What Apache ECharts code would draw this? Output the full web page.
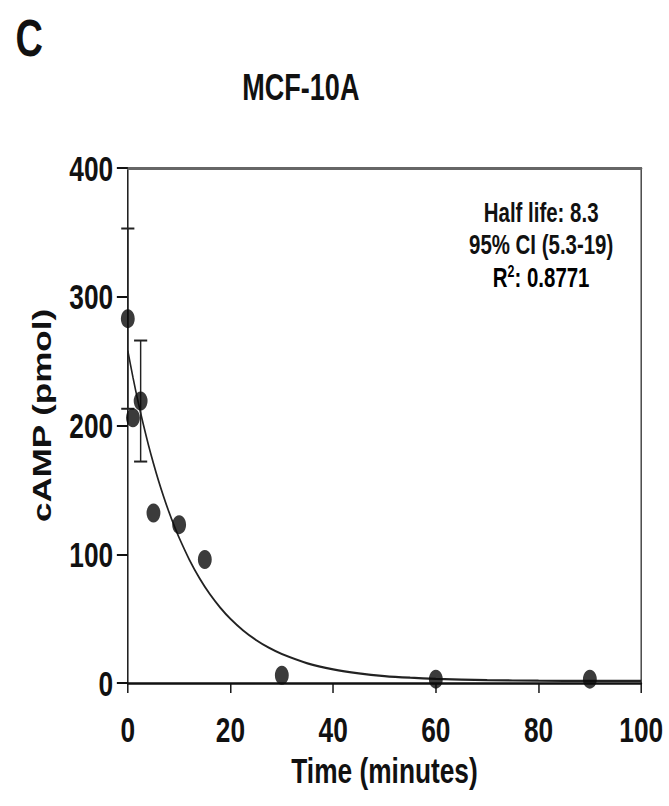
<!DOCTYPE html>
<html>
<head>
<meta charset="utf-8">
<script src="https://cdn.jsdelivr.net/npm/echarts@6/dist/echarts.min.js"></script>
<style>
html,body{margin:0;padding:0;background:#fff;overflow:hidden;width:669px;height:806px;}
#wrap{width:669px;height:806px;overflow:hidden;position:relative;}
#chart{width:916px;height:806px;transform:scaleX(0.7303);transform-origin:0 0;position:absolute;left:0;top:0;}
</style>
</head>
<body>
<div id="wrap"><div id="chart"></div></div>
<script>
// Measured data (time in minutes, cAMP in pmol)
const timePoints = [0, 1, 2.5, 5, 10, 15, 30, 60, 90];
const campMean   = [283, 206, 219, 132, 123, 96, 6, 3, 3];
const campSem    = [70, 0, 47, 0, 0, 0, 0, 0, 0];

// Fitted one-phase decay curve
const fitTime  = [0, 1, 2, 3, 4, 5, 6, 7, 8, 9, 10, 12, 14, 16, 18, 20, 22.5, 25, 27.5, 30, 35, 40, 45, 50, 55, 60, 70, 80, 90, 100];
const fitValue = [258, 237.5, 218.5, 201.2, 185.2, 170.5, 156.9, 144.5, 133, 122.5, 112.8, 95.7, 81.2, 68.9, 58.6, 49.8, 40.7, 33.3, 27.3, 22.5, 15.3, 10.6, 7.5, 5.4, 4.1, 3.2, 2.2, 1.8, 1.6, 1.6];

const xTicks = [0, 20, 40, 60, 80, 100];
const yTicks = [0, 100, 200, 300, 400];

const panelLabel = 'C';
const chartTitle = 'MCF-10A';
const xName = 'Time (minutes)';
const yName = 'cAMP (pmol)';
const annoLines = ['Half life: 8.3', '95% CI (5.3-19)'];
const r2Value = '0.8771';

const FONT = '"Liberation Sans", Arial, Helvetica, sans-serif';

const scatterData = timePoints.map((t, i) => [t, campMean[i]]);
const errData = timePoints
  .map((t, i) => [t, campMean[i] - campSem[i], campMean[i] + campSem[i], campSem[i]])
  .filter(d => d[3] > 0);
const fitData = fitTime.map((t, i) => [t, fitValue[i]]);

const chart = echarts.init(document.getElementById('chart'), null, {renderer: 'svg'});

const annoStyle = {fontFamily: FONT, fontWeight: 'bold', fontSize: 28, lineHeight: 28, fill: '#111', align: 'center', verticalAlign: 'middle'};

const option = {
  backgroundColor: '#fff',
  animation: false,
  grid: {left: 175, right: 38, top: 168, bottom: 123},
  xAxis: [{
    type: 'value', min: 0, max: 100, interval: 20,
    name: xName, nameLocation: 'middle', nameGap: 69,
    nameTextStyle: {fontFamily: FONT, fontWeight: 'bold', fontSize: 36, color: '#111'},
    axisLine: {show: true, onZero: false, lineStyle: {color: '#111', width: 2.5}},
    axisTick: {show: true, inside: false, length: 10, lineStyle: {color: '#111', width: 2}},
    axisLabel: {margin: 28, fontFamily: FONT, fontWeight: 'bold', fontSize: 36, color: '#111',
      formatter: v => xTicks.includes(v) ? String(v) : ''},
    splitLine: {show: false}
  }, {
    type: 'value', position: 'top', min: 0, max: 100, interval: 20,
    axisLine: {show: true, onZero: false, lineStyle: {color: '#666', width: 3}},
    axisTick: {show: false}, axisLabel: {show: false}, splitLine: {show: false}
  }],
  yAxis: [{
    type: 'value', min: 0, max: 400, interval: 100,
    name: yName, nameLocation: 'middle', nameGap: 100, nameRotate: 90,
    nameTextStyle: {fontFamily: FONT, fontWeight: 'bold', fontSize: 35, color: '#111', padding: [0, 0, 0, 20]},
    axisLine: {show: true, onZero: false, lineStyle: {color: '#111', width: 2}},
    axisTick: {show: true, inside: false, length: 15, lineStyle: {color: '#111', width: 2}},
    axisLabel: {margin: 20, fontFamily: FONT, fontWeight: 'bold', fontSize: 36, color: '#111',
      formatter: v => yTicks.includes(v) ? String(v) : ''},
    splitLine: {show: false}
  }, {
    type: 'value', position: 'right', min: 0, max: 400, interval: 100,
    axisLine: {show: true, onZero: false, lineStyle: {color: '#444', width: 2}},
    axisTick: {show: false}, axisLabel: {show: false}, splitLine: {show: false}
  }],
  series: [{
    type: 'line', data: fitData, smooth: 0.3,
    showSymbol: false, symbol: 'none',
    lineStyle: {color: '#222', width: 2.2}, z: 2
  }, {
    type: 'custom', data: errData, z: 3,
    renderItem: function (params, api) {
      const x = api.value(0);
      const lo = api.coord([x, api.value(1)]);
      const hi = api.coord([x, api.value(2)]);
      const cap = 9;
      const st = {stroke: '#222', lineWidth: 2};
      return {type: 'group', children: [
        {type: 'line', shape: {x1: hi[0], y1: hi[1], x2: lo[0], y2: lo[1]}, style: st},
        {type: 'line', shape: {x1: hi[0] - cap, y1: hi[1], x2: hi[0] + cap, y2: hi[1]}, style: st},
        {type: 'line', shape: {x1: lo[0] - cap, y1: lo[1], x2: lo[0] + cap, y2: lo[1]}, style: st}
      ]};
    }
  }, {
    type: 'scatter', data: scatterData, symbol: 'circle', symbolSize: 19,
    itemStyle: {color: '#0a0a0a'}, z: 4
  }],
  graphic: [
    {type: 'text', x: 40, y: 38, style: {text: panelLabel, fontFamily: FONT, fontWeight: 'bold', fontSize: 52, fill: '#111', align: 'center', verticalAlign: 'middle'}},
    {type: 'text', x: 412, y: 87, style: {text: chartTitle, fontFamily: FONT, fontWeight: 'bold', fontSize: 37, fill: '#111', align: 'center', verticalAlign: 'middle'}},
    {type: 'text', x: 741, y: 212, style: Object.assign({text: annoLines[0]}, annoStyle)},
    {type: 'text', x: 741, y: 244, style: Object.assign({text: annoLines[1]}, annoStyle)},
    {type: 'text', x: 741, y: 277, style: {
      text: '{a|R}{s|2}{a|: ' + r2Value + '}',
      align: 'center', verticalAlign: 'middle',
      rich: {
        a: {fontFamily: FONT, fontWeight: 'bold', fontSize: 28, color: '#111', lineHeight: 28},
        s: {fontFamily: FONT, fontWeight: 'bold', fontSize: 17, color: '#111', lineHeight: 28, verticalAlign: 'top', padding: [0, 0, 8, 0]}
      }
    }}
  ]
};
chart.setOption(option);
</script>
</body>
</html>
